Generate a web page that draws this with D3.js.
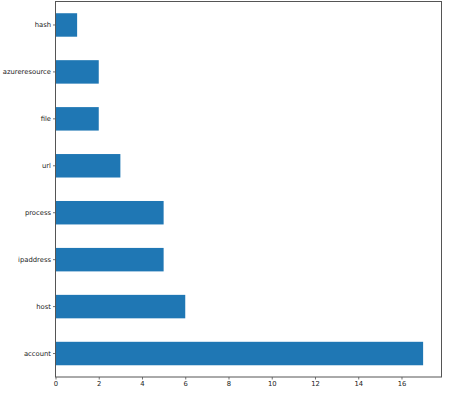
<!DOCTYPE html>
<html>
<head>
<meta charset="utf-8">
<script src="https://cdn.jsdelivr.net/npm/d3@7"></script>
<style>
  body { margin: 0; background: #fff; }
  svg text { font-family: "DejaVu Sans", sans-serif; font-size: 6.8px; fill: #222; }
</style>
</head>
<body>
<svg id="chart" width="450" height="398"></svg>
<script>
const categories = ["account", "host", "ipaddress", "process", "url", "file", "azureresource", "hash"];
const counts = [17, 6, 5, 5, 3, 2, 2, 1];
const xTicks = [0, 2, 4, 6, 8, 10, 12, 14, 16];

const margin = {left: 55.5, top: 1.5, right: 8.5, bottom: 21};
const width = 450, height = 398;
const innerW = width - margin.left - margin.right;
const innerH = height - margin.top - margin.bottom;

const svg = d3.select("#chart");
const g = svg.append("g").attr("transform", `translate(${margin.left},${margin.top})`);

const x = d3.scaleLinear().domain([0, 17.85]).range([0, innerW]);
// first category at the bottom, like matplotlib barh
const y = d3.scaleBand().domain(categories.slice().reverse()).range([0, innerH])
    .paddingInner(0.5).paddingOuter(0.25);

//------------ Bars ------------//
g.selectAll("rect.bar")
    .data(categories.map((c, i) => ({name: c, value: counts[i]})))
    .join("rect")
    .attr("class", "bar")
    .attr("x", x(0))
    .attr("y", d => y(d.name))
    .attr("width", d => x(d.value) - x(0))
    .attr("height", y.bandwidth())
    .attr("fill", "#1f77b4");

//------------ Axes ------------//
const xAxis = g.append("g")
    .attr("transform", `translate(0,${innerH})`)
    .call(d3.axisBottom(x).tickValues(xTicks).tickSize(2.5).tickPadding(2));
const yAxis = g.append("g")
    .call(d3.axisLeft(y).tickSize(2.5).tickPadding(2));

[xAxis, yAxis].forEach(a => {
    a.select(".domain").remove();
    a.selectAll("line").attr("stroke", "#333").attr("stroke-width", 0.7);
    a.selectAll("text").attr("font-size", null).attr("font-family", null).attr("fill", "#222");
});

// frame (spines)
g.append("rect")
    .attr("x", 0).attr("y", 0)
    .attr("width", innerW).attr("height", innerH)
    .attr("fill", "none")
    .attr("stroke", "#555")
    .attr("stroke-width", 1);
</script>
</body>
</html>
